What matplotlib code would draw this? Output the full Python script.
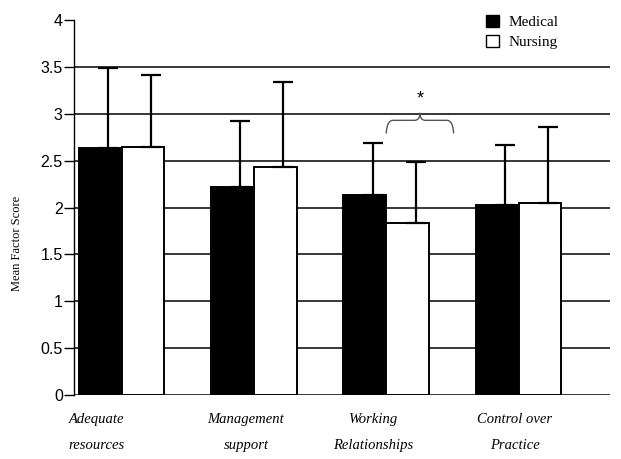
import numpy as np
import matplotlib.pyplot as plt
from matplotlib.path import Path
from matplotlib.patches import PathPatch, Patch

# ─── Data ────────────────────────────────────────────────────────────────────
categories  = ['Adequate\nresources', 'Management\nsupport',
               'Working\nRelationships', 'Control over\nPractice']
medical     = [2.63, 2.22, 2.13, 2.03]
medical_sd  = [0.86, 0.70, 0.56, 0.64]
nursing     = [2.65, 2.43, 1.83, 2.05]
nursing_sd  = [0.76, 0.91, 0.66, 0.81]
yticks      = [0, 0.5, 1, 1.5, 2, 2.5, 3, 3.5, 4]
ytick_labels = ['0', '0.5', '1', '1.5', '2', '2.5', '3', '3.5', '4']

serif = 'Liberation Serif'
sans = 'Liberation Sans'

# ─── Figure ──────────────────────────────────────────────────────────────────
fig = plt.figure(figsize=(6.21, 4.59), dpi=100)
ax = fig.add_axes([0.119, 0.1394, 0.863, 0.817])

x = np.arange(len(categories))
w = 0.323

# gridlines (no line at the top tick)
ax.hlines(yticks[1:-1], -0.36, 3.69, color='black', lw=1.1, zorder=1)
ax.axhline(0, color='black', lw=1.1, zorder=1)

ax.bar(x - w / 2, medical, w, color='black', edgecolor='black', lw=1.4, zorder=2)
ax.bar(x + w / 2, nursing, w, color='white', edgecolor='black', lw=1.4, zorder=2)

off = 0.06
ax.errorbar(x - w / 2 + off, medical, yerr=[np.zeros(4), medical_sd], fmt='none',
            ecolor='black', elinewidth=1.6, capsize=7.5, capthick=1.6, zorder=3)
ax.errorbar(x + w / 2 + off, nursing, yerr=[np.zeros(4), nursing_sd], fmt='none',
            ecolor='black', elinewidth=1.6, capsize=7.5, capthick=1.6, zorder=3)

# significance brace over Working Relationships
x0, x1, xm = 2.0, 2.51, 2.255
yb, yh, yt = 2.79, 2.93, 3.01
verts = [(x0, yb), (x0 + 0.005, yh), (x0 + 0.05, yh),
         (xm - 0.04, yh), (xm, yh), (xm, yt),
         (xm, yh), (xm + 0.04, yh),
         (x1 - 0.05, yh), (x1 - 0.005, yh), (x1, yb)]
codes = [Path.MOVETO, Path.CURVE3, Path.CURVE3,
         Path.LINETO, Path.CURVE3, Path.CURVE3,
         Path.CURVE3, Path.CURVE3,
         Path.LINETO, Path.CURVE3, Path.CURVE3]
ax.add_patch(PathPatch(Path(verts, codes), fill=False, edgecolor='#555555',
                       lw=1.0, zorder=4))
ax.text(xm, 3.16, '*', ha='center', va='center', fontsize=13, family=sans)

# axes styling
ax.set_xlim(-0.36, 3.69)
ax.set_ylim(0, 4)
for s in ['top', 'right', 'bottom']:
    ax.spines[s].set_visible(False)
ax.spines['left'].set_linewidth(1.0)
ax.set_yticks(yticks)
ax.set_yticklabels(ytick_labels, family=sans, fontsize=11.5)
ax.tick_params(axis='y', length=7, width=1, pad=1)

# label positions drift a little left of the group centres in the original
label_shift = [-0.19, -0.06, -0.10, -0.03]
ax.set_xticks(x + np.array(label_shift))
ax.set_xticklabels(categories, family=serif, style='italic', fontsize=10.5,
                   linespacing=2.25)
ax.tick_params(axis='x', length=0, pad=13)
ax.set_ylabel('Mean Factor Score', family=serif, fontsize=9)
ax.yaxis.set_label_coords(-0.095, 0.405)

handles = [Patch(facecolor='black', edgecolor='black', label='Medical'),
           Patch(facecolor='white', edgecolor='black', label='Nursing')]
ax.legend(handles=handles, loc='upper left', bbox_to_anchor=(0.744, 1.05),
          frameon=False, prop={'family': serif, 'size': 11},
          handlelength=0.85, handleheight=0.85, handletextpad=0.6,
          labelspacing=0.35)

plt.savefig('out.png', dpi=100)
plt.close()
